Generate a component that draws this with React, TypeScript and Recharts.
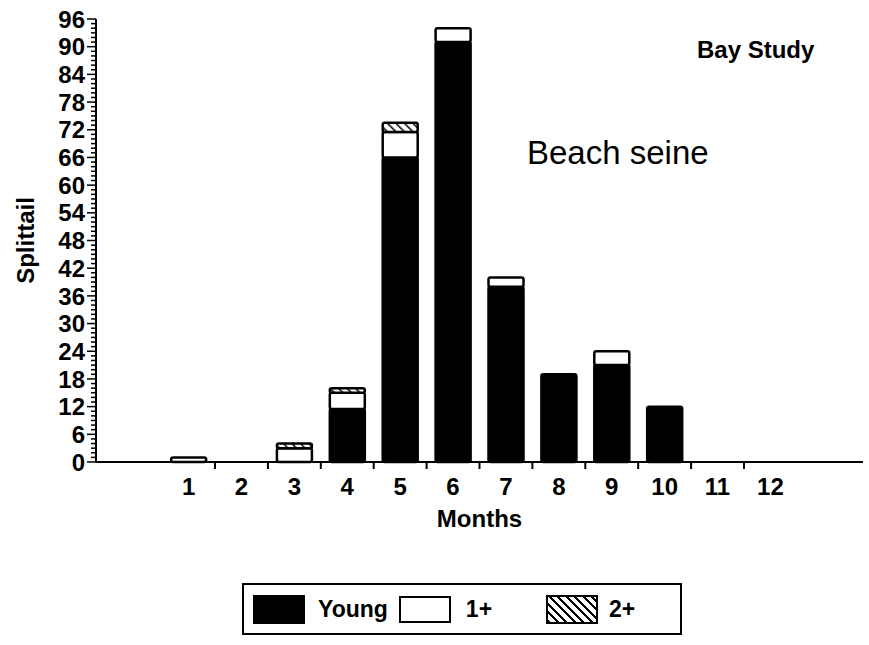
import { Bar, BarChart, Legend, XAxis, YAxis } from "recharts";

// Splittail catch by month, beach seine, split by age class
const months = [1, 2, 3, 4, 5, 6, 7, 8, 9, 10, 11, 12];
const young = [0, 0, 0, 11.5, 66, 91, 38, 19, 21, 12, 0, 0];
const onePlus = [1, 0, 3, 3.5, 5.5, 3, 2, 0, 3, 0, 0, 0];
const twoPlus = [0, 0, 1, 1, 2, 0, 0, 0, 0, 0, 0, 0];

const yLabels = [0, 6, 12, 18, 24, 30, 36, 42, 48, 54, 60, 66, 72, 78, 84, 90, 96];
const monthDividers = [1.5, 2.5, 3.5, 4.5, 5.5, 6.5, 7.5, 8.5, 9.5, 10.5, 11.5];

// ruler ticks every unit, labels only on yLabels
const yRuler = Array.from({ length: 97 }, (_, i) => i);
const xTicks = [...months, ...monthDividers].sort((a, b) => a - b);

const data = months.map((m, i) => ({
  month: m,
  young: young[i],
  one: onePlus[i],
  two: twoPlus[i],
}));

const FONT = "'Liberation Sans', Arial, Helvetica, sans-serif";
const Y_TICK = 8;
const Y_MARGIN = 3;
const X_TICK = 7;
const X_MARGIN = 9;

const YTick = ({ x, y, payload }: any) => {
  const v = payload.value as number;
  const axisX = x + Y_TICK + Y_MARGIN;
  const major = yLabels.includes(v);
  return (
    <g>
      <line x1={axisX - (major ? 9 : 5)} x2={axisX} y1={y} y2={y} stroke="#000" strokeWidth={1.5} />
      {major && (
        <text x={x} y={y} dy="0.36em" textAnchor="end" fontSize={24} fontWeight="bold" fontFamily={FONT} fill="#000">
          {v}
        </text>
      )}
    </g>
  );
};

const MonthTick = ({ x, y, payload }: any) => {
  const v = payload.value as number;
  if (!Number.isInteger(v)) {
    const axisY = y - X_TICK - X_MARGIN;
    return <line x1={x} x2={x} y1={axisY} y2={axisY + X_TICK} stroke="#000" strokeWidth={2} />;
  }
  return (
    <text x={x} y={y} dy="0.71em" textAnchor="middle" fontSize={24} fontWeight="bold" fontFamily={FONT} fill="#000">
      {v}
    </text>
  );
};

const swatch = { width: 52, height: 29, boxSizing: "border-box" as const, border: "2px solid #000" };
const legendText = { fontSize: 23, fontWeight: "bold" as const, marginLeft: 13 };

const LegendBox = () => (
  <div
    style={{
      width: 440,
      height: 52,
      border: "2px solid #000",
      boxSizing: "border-box",
      display: "flex",
      alignItems: "center",
      fontFamily: FONT,
      color: "#000",
    }}
  >
    <div style={{ ...swatch, marginLeft: 9, background: "#000" }} />
    <span style={legendText}>Young</span>
    <div style={{ ...swatch, marginLeft: 11, background: "#fff", height: 27 }} />
    <span style={{ ...legendText, marginLeft: 15 }}>1+</span>
    <div
      style={{
        ...swatch,
        marginLeft: 54,
        background: "repeating-linear-gradient(45deg, #000 0 2px, #fff 2px 6px)",
      }}
    />
    <span style={{ ...legendText, marginLeft: 11 }}>2+</span>
  </div>
);

export default function App() {
  return (
    <div style={{ position: "absolute", left: 0, top: 0, background: "#fff" }}>
      <BarChart
        width={869}
        height={645}
        data={data}
        margin={{ top: 19, right: 6, bottom: 118, left: 0 }}
        style={{ fontFamily: FONT }}
      >
        <defs>
          <pattern id="hatch" width="6" height="6" patternUnits="userSpaceOnUse" patternTransform="rotate(-45)">
            <rect width="6" height="6" fill="#fff" />
            <line x1="0" y1="0" x2="0" y2="6" stroke="#000" strokeWidth="3" />
          </pattern>
        </defs>
        <XAxis
          dataKey="month"
          type="number"
          domain={[-0.75, 13.75]}
          ticks={xTicks}
          interval={0}
          height={65}
          tickLine={false}
          tickSize={X_TICK}
          tickMargin={X_MARGIN}
          tick={MonthTick}
          axisLine={{ stroke: "#000", strokeWidth: 2 }}
          label={{ value: "Months", position: "insideBottom", offset: 0, fontSize: 24, fontWeight: "bold", fill: "#000" }}
        />
        <XAxis
          xAxisId="top"
          orientation="top"
          type="number"
          domain={[-0.75, 13.75]}
          height={0}
          tick={false}
          tickLine={false}
          axisLine={{ stroke: "#000", strokeWidth: 2 }}
        />
        <YAxis
          type="number"
          domain={[0, 96]}
          ticks={yRuler}
          interval={0}
          width={96}
          tickLine={false}
          tickSize={Y_TICK}
          tickMargin={Y_MARGIN}
          tick={YTick}
          axisLine={{ stroke: "#000", strokeWidth: 2 }}
          label={({ viewBox }: any) => (
            <text
              transform={`translate(${viewBox.x + 25}, ${viewBox.y + viewBox.height / 2}) rotate(-90)`}
              textAnchor="middle"
              dy="0.36em"
              fontSize={24}
              fontWeight="bold"
              fontFamily={FONT}
              fill="#000"
            >
              Splittail
            </text>
          )}
        />
        <YAxis
          yAxisId="right"
          orientation="right"
          type="number"
          domain={[0, 96]}
          width={0}
          tick={false}
          tickLine={false}
          axisLine={{ stroke: "#000", strokeWidth: 2 }}
        />
        <Legend
          layout="horizontal"
          verticalAlign="middle"
          align="center"
          content={LegendBox}
          wrapperStyle={{ left: 242, top: 583, width: 440 }}
        />
        <Bar dataKey="young" stackId="age" barSize={35} fill="#000" stroke="#000" strokeWidth={2.5} radius={2} isAnimationActive={false} />
        <Bar dataKey="one" stackId="age" barSize={35} fill="#fff" stroke="#000" strokeWidth={2.5} radius={2} isAnimationActive={false} />
        <Bar dataKey="two" stackId="age" barSize={35} fill="url(#hatch)" stroke="#000" strokeWidth={2.5} radius={2} isAnimationActive={false} />
        <text x={697} y={58} fontSize={24} fontWeight="bold" fontFamily={FONT} fill="#000">
          Bay Study
        </text>
        <text x={527} y={164} fontSize={33} fontFamily={FONT} fill="#000">
          Beach seine
        </text>
      </BarChart>
    </div>
  );
}
